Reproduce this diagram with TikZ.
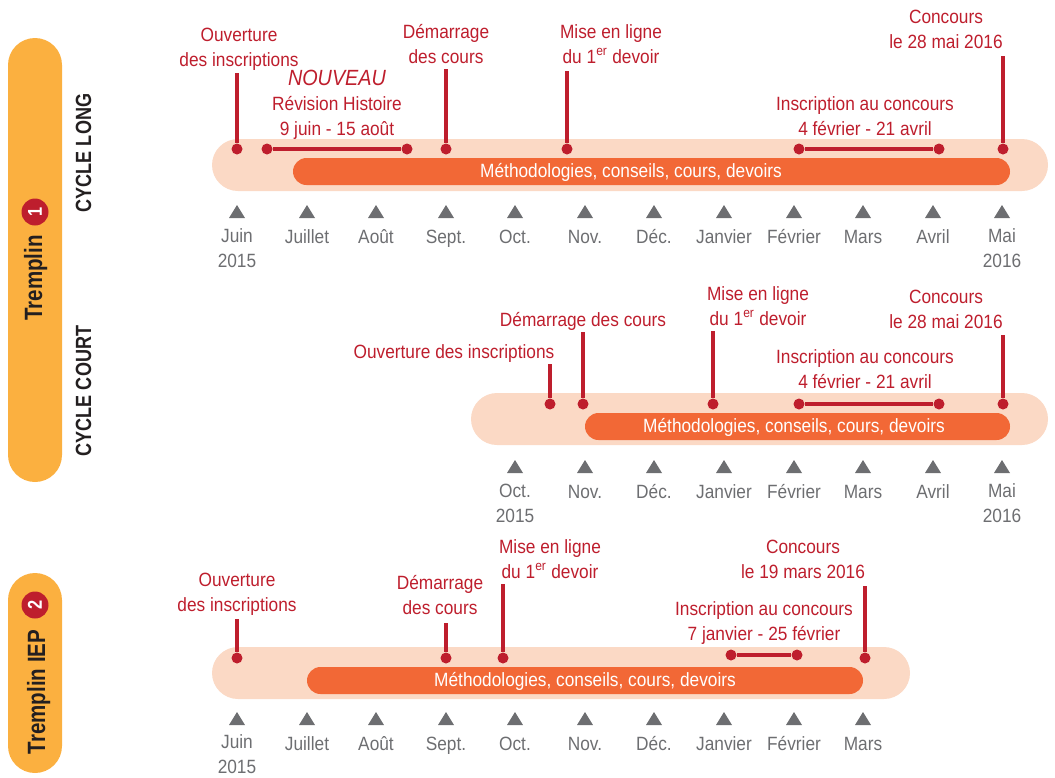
\documentclass[tikz,border=0pt]{standalone}
\usepackage{fontspec}
\setmainfont[FakeStretch=0.9]{Liberation Sans}
\newfontfamily\condfont[FakeStretch=0.82]{Liberation Sans}
\newcommand\lblfont{\fontsize{19.2}{25}\selectfont}
\newcommand\nouvfont{\fontsize{22}{25}\selectfont\itshape}
\definecolor{cred}{HTML}{BE1E2D}
\definecolor{cpeach}{HTML}{FBD9C5}
\definecolor{corange}{HTML}{F26836}
\definecolor{cyel}{HTML}{FBB040}
\definecolor{cgray}{HTML}{6D6E71}
\definecolor{cdark}{HTML}{231F20}
\begin{document}
\begin{tikzpicture}[x=1pt,y=-1pt,
  lbl/.style={text=cred, font=\lblfont, align=center, inner sep=0pt, anchor=base},
  mon/.style={text=cgray, font=\lblfont, align=center, inner sep=0pt, anchor=base},
  dot/.style={circle, fill=cred, inner sep=0pt, minimum size=11pt},
  stem/.style={draw=cred, line width=3.1pt},
  band/.style={fill=cpeach, rounded corners=26pt},
  bar/.style={fill=corange, rounded corners=13.5pt},
  bartext/.style={text=white, font=\lblfont, inner sep=0pt},
  side/.style={fill=cyel, rounded corners=27pt},
  vtitle/.style={text=cdark, font=\condfont\bfseries\fontsize{25}{25}\selectfont, rotate=90, anchor=base, inner sep=0pt},
  vcycle/.style={text=cdark, font=\condfont\bfseries\fontsize{22}{22}\selectfont, rotate=90, anchor=base, inner sep=0pt},
  badge/.style={circle, fill=cred, text=white, inner sep=0pt, minimum size=27pt, font=\condfont\bfseries\fontsize{20}{20}\selectfont}]
\useasboundingbox (0,0) rectangle (1055,777);

% ---------- side bars ----------
\fill[side] (8,38) rectangle (62,482);
\fill[side] (8,573) rectangle (62,773);
\node[vtitle] (tr1) at (42,278) {Tremplin};
\node[badge] (b1) at (35,212) {\rotatebox{90}{1}};
\node[vtitle] (tr2) at (45,692) {Tremplin IEP};
\node[badge] (b2) at (35,605) {\rotatebox{90}{2}};
\node[vcycle] (cl) at (91,153) {CYCLE LONG};
\node[vcycle] (cc) at (91,391) {CYCLE COURT};

% ---------- section 1 : cycle long ----------
\fill[band] (212,139) rectangle (1048,191);
\fill[bar] (293,158) rectangle (1010,185);
\node[bartext] (m1) at (631,172) {Méthodologies, conseils, cours, devoirs};

\node[lbl] (s1ouv) at (239,66) {Ouverture\\des inscriptions};
\node[lbl, anchor=center] (s1nouv) at (337,78) {\nouvfont NOUVEAU};
\node[lbl] (s1rev) at (337,135) {Révision Histoire\\9 juin - 15 août};
\node[lbl] (s1dem) at (446,63) {Démarrage\\des cours};
\node[lbl] (s1mise) at (611,63) {Mise en ligne\\du 1\textsuperscript{er} devoir};
\node[lbl] (s1ins) at (865,135) {Inscription au concours\\4 février - 21 avril};
\node[lbl] (s1conc) at (946,48) {Concours\\le 28 mai 2016};

\node[dot] (d1a) at (237,149) {};
\node[dot] (d1b) at (267,149) {};
\node[dot] (d1c) at (407,149) {};
\node[dot] (d1d) at (446,149) {};
\node[dot] (d1e) at (567,149) {};
\node[dot] (d1f) at (799,149) {};
\node[dot] (d1g) at (939,149) {};
\node[dot] (d1h) at (1003,149) {};
\coordinate (t1a) at (237,73);
\coordinate (t1d) at (446,69);
\coordinate (t1e) at (567,71);
\coordinate (t1h) at (1003,56);
\draw[stem] (t1a) -- (d1a);
\draw[stem] (t1d) -- (d1d);
\draw[stem] (t1e) -- (d1e);
\draw[stem] (t1h) -- (d1h);
\draw[stem] (d1b) -- (d1c);
\draw[stem] (d1f) -- (d1g);

\foreach \x in {237,307,376,446,515,585,654,724,794,863,933,1002}
  \fill[cgray] (\x-8,218) -- (\x+8,218) -- (\x,205) -- cycle;
\node[mon] (m1jun) at (237,267) {Juin\\2015};
\node[mon] (m1jul) at (307,243) {Juillet};
\node[mon] (m1aou) at (376,243) {Août};
\node[mon] (m1sep) at (446,243) {Sept.};
\node[mon] (m1oct) at (515,243) {Oct.};
\node[mon] (m1nov) at (585,243) {Nov.};
\node[mon] (m1dec) at (654,243) {Déc.};
\node[mon] (m1jan) at (724,243) {Janvier};
\node[mon] (m1fev) at (794,243) {Février};
\node[mon] (m1mar) at (863,243) {Mars};
\node[mon] (m1avr) at (933,243) {Avril};
\node[mon] (m1mai) at (1002,267) {Mai\\2016};

% ---------- section 2 : cycle court ----------
\fill[band] (471,393) rectangle (1048,445);
\fill[bar] (585,413) rectangle (1010,440);
\node[bartext] (m2) at (794,427) {Méthodologies, conseils, cours, devoirs};

\node[lbl] (s2ouv) at (454,358) {Ouverture des inscriptions};
\node[lbl] (s2dem) at (583,326) {Démarrage des cours};
\node[lbl] (s2mise) at (758,325) {Mise en ligne\\du 1\textsuperscript{er} devoir};
\node[lbl] (s2ins) at (865,388) {Inscription au concours\\4 février - 21 avril};
\node[lbl] (s2conc) at (946,328) {Concours\\le 28 mai 2016};

\node[dot] (d2a) at (550,404) {};
\node[dot] (d2b) at (583,404) {};
\node[dot] (d2c) at (713,404) {};
\node[dot] (d2d) at (799,404) {};
\node[dot] (d2e) at (939,404) {};
\node[dot] (d2f) at (1003,404) {};
\coordinate (t2a) at (550,364);
\coordinate (t2b) at (583,332);
\coordinate (t2c) at (713,331);
\coordinate (t2f) at (1003,335);
\draw[stem] (t2a) -- (d2a);
\draw[stem] (t2b) -- (d2b);
\draw[stem] (t2c) -- (d2c);
\draw[stem] (t2f) -- (d2f);
\draw[stem] (d2d) -- (d2e);

\foreach \x in {515,585,654,724,794,863,933,1002}
  \fill[cgray] (\x-8,473) -- (\x+8,473) -- (\x,460) -- cycle;
\node[mon] (m2oct) at (515,522) {Oct.\\2015};
\node[mon] (m2nov) at (585,498) {Nov.};
\node[mon] (m2dec) at (654,498) {Déc.};
\node[mon] (m2jan) at (724,498) {Janvier};
\node[mon] (m2fev) at (794,498) {Février};
\node[mon] (m2mar) at (863,498) {Mars};
\node[mon] (m2avr) at (933,498) {Avril};
\node[mon] (m2mai) at (1002,522) {Mai\\2016};

% ---------- section 3 : IEP ----------
\fill[band] (212,647) rectangle (910,699);
\fill[bar] (307,667) rectangle (863,694);
\node[bartext] (m3) at (585,681) {Méthodologies, conseils, cours, devoirs};

\node[lbl] (s3ouv) at (237,611) {Ouverture\\des inscriptions};
\node[lbl] (s3dem) at (440,614) {Démarrage\\des cours};
\node[lbl] (s3mise) at (550,578) {Mise en ligne\\du 1\textsuperscript{er} devoir};
\node[lbl] (s3ins) at (764,640) {Inscription au concours\\7 janvier - 25 février};
\node[lbl] (s3conc) at (803,578) {Concours\\le 19 mars 2016};

\node[dot] (d3a) at (237,658) {};
\node[dot] (d3b) at (446,658) {};
\node[dot] (d3c) at (503,658) {};
\node[dot] (d3d) at (731,655) {};
\node[dot] (d3e) at (797,655) {};
\node[dot] (d3f) at (865,658) {};
\coordinate (t3a) at (237,619);
\coordinate (t3b) at (446,623);
\coordinate (t3c) at (503,584);
\coordinate (t3f) at (865,586);
\draw[stem] (t3a) -- (d3a);
\draw[stem] (t3b) -- (d3b);
\draw[stem] (t3c) -- (d3c);
\draw[stem] (t3f) -- (d3f);
\draw[stem] (d3d) -- (d3e);

\foreach \x in {237,307,376,446,515,585,654,724,794,863}
  \fill[cgray] (\x-8,725) -- (\x+8,725) -- (\x,712) -- cycle;
\node[mon] (m3jun) at (237,773) {Juin\\2015};
\node[mon] (m3jul) at (307,750) {Juillet};
\node[mon] (m3aou) at (376,750) {Août};
\node[mon] (m3sep) at (446,750) {Sept.};
\node[mon] (m3oct) at (515,750) {Oct.};
\node[mon] (m3nov) at (585,750) {Nov.};
\node[mon] (m3dec) at (654,750) {Déc.};
\node[mon] (m3jan) at (724,750) {Janvier};
\node[mon] (m3fev) at (794,750) {Février};
\node[mon] (m3mar) at (863,750) {Mars};
\end{tikzpicture}
\end{document}
